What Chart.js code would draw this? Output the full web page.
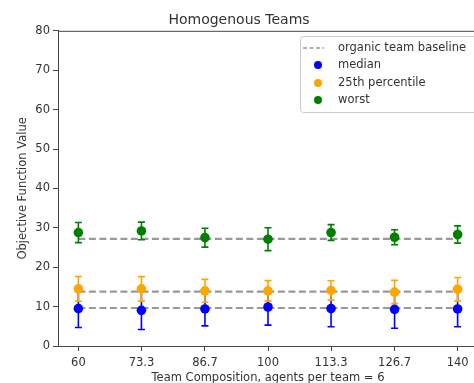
<!DOCTYPE html>
<html>
<head>
<meta charset="utf-8">
<script src="https://cdn.jsdelivr.net/npm/chart.js@4.4.1/dist/chart.umd.min.js"></script>
<style>
  html, body { margin: 0; padding: 0; background: #fff; }
  #wrap { width: 474px; height: 383px; overflow: hidden; position: relative; }
  #box { width: 500px; height: 383px; }
</style>
</head>
<body>
<div id="wrap"><div id="box"><canvas id="chart"></canvas></div></div>
<script>
// team compositions on the x axis
const compositions = [60, 73.3, 86.7, 100, 113.3, 126.7, 140];
const xTickLabels = ['60', '73.3', '86.7', '100', '113.3', '126.7', '140'];

// series (value, +/- error)
const medianVals = [9.5, 9.05, 9.4, 9.9, 9.5, 9.3, 9.4];
const medianErr = [4.8, 4.85, 4.3, 4.6, 4.6, 4.8, 4.5];
const p25Vals = [14.5, 14.5, 14.0, 14.0, 14.1, 13.7, 14.4];
const p25Err = [3.15, 3.1, 2.9, 2.6, 2.45, 2.95, 3.0];
const worstVals = [28.8, 29.2, 27.5, 27.1, 28.8, 27.6, 28.3];
const worstErr = [2.55, 2.25, 2.4, 2.9, 2.0, 1.9, 2.2];

// organic team baselines
const baselineVals = [9.65, 13.8, 27.2];

const blue = '#0000ff';
const orange = '#ffa500';
const green = '#008000';
const dashGray = '#999999';
const axisColor = '#444';
const textColor = '#333';
const fontFam = "'DejaVu Sans', sans-serif";

const toPoints = vals => vals.map((v, i) => ({ x: compositions[i], y: v }));
const baselineData = v => [{ x: compositions[0], y: v }, { x: compositions[compositions.length - 1], y: v }];

const datasets = [];
baselineVals.forEach(v => {
    datasets.push({
        type: 'line',
        data: baselineData(v),
        borderColor: dashGray,
        borderWidth: 2.2,
        borderDash: [7, 3.5],
        pointRadius: 0,
        order: 10
    });
});
[[medianVals, medianErr, blue, 3], [p25Vals, p25Err, orange, 2], [worstVals, worstErr, green, 1]].forEach(([vals, errs, col, ord]) => {
    datasets.push({
        type: 'scatter',
        data: toPoints(vals),
        errors: errs,
        backgroundColor: col,
        borderColor: col,
        pointRadius: 4.8,
        pointBorderWidth: 0,
        order: ord
    });
});

// error bars drawn just before each dataset's markers
const errorBars = {
    id: 'errorBars',
    beforeDatasetDraw(chart, args) {
        const ds = chart.data.datasets[args.index];
        if (!ds.errors) return;
        const xs = chart.scales.x, ys = chart.scales.y;
        const c = chart.ctx;
        c.save();
        c.strokeStyle = ds.borderColor;
        c.lineWidth = 1.6;
        ds.data.forEach((p, i) => {
            const px = xs.getPixelForValue(p.x);
            const top = ys.getPixelForValue(p.y + ds.errors[i]);
            const bot = ys.getPixelForValue(p.y - ds.errors[i]);
            c.beginPath();
            c.moveTo(px, top); c.lineTo(px, bot);
            c.moveTo(px - 3.5, top); c.lineTo(px + 3.5, top);
            c.moveTo(px - 3.5, bot); c.lineTo(px + 3.5, bot);
            c.stroke();
        });
        c.restore();
    }
};

// top/right spines and in-plot legend
const frameAndLegend = {
    id: 'frameAndLegend',
    afterDraw(chart) {
        const c = chart.ctx;
        const a = chart.chartArea;
        c.save();
        c.strokeStyle = axisColor;
        c.lineWidth = 1;
        c.beginPath();
        c.moveTo(a.left, a.top + 0.5); c.lineTo(a.right, a.top + 0.5);
        c.lineTo(a.right, a.bottom);
        c.stroke();

        const lx = 300, ly = 36, lw = 190, lh = 76;
        c.fillStyle = 'rgba(255,255,255,0.85)';
        c.strokeStyle = '#cccccc';
        c.beginPath();
        c.roundRect(lx + 0.5, ly + 0.5, lw, lh, 3);
        c.fill(); c.stroke();

        const entries = [
            { label: 'organic team baseline', kind: 'dash', color: dashGray },
            { label: 'median', kind: 'dot', color: blue },
            { label: '25th percentile', kind: 'dot', color: orange },
            { label: 'worst', kind: 'dot', color: green }
        ];
        const rowY = [48, 65, 83, 100];
        c.font = '11.5px ' + fontFam;
        c.textBaseline = 'middle';
        entries.forEach((e, i) => {
            const y = rowY[i];
            if (e.kind === 'dash') {
                c.strokeStyle = e.color;
                c.lineWidth = 1.5;
                c.setLineDash([4, 2.5]);
                c.beginPath(); c.moveTo(303, y); c.lineTo(324, y); c.stroke();
                c.setLineDash([]);
            } else {
                c.fillStyle = e.color;
                c.beginPath(); c.arc(318, y, 4, 0, Math.PI * 2); c.fill();
            }
            c.fillStyle = textColor;
            c.fillText(e.label, 338, y);
        });
        c.restore();
    }
};

new Chart(document.getElementById('chart'), {
    data: { datasets: datasets },
    plugins: [errorBars, frameAndLegend],
    options: {
        responsive: true,
        maintainAspectRatio: false,
        animation: false,
        layout: { padding: { left: 0, right: 22, top: 0, bottom: 0 } },
        plugins: {
            legend: { display: false },
            tooltip: { enabled: false },
            title: {
                display: true,
                text: 'Homogenous Teams',
                color: textColor,
                font: { family: fontFam, size: 14, weight: 'normal' },
                padding: { top: 12, bottom: 2 }
            }
        },
        scales: {
            x: {
                type: 'linear',
                min: 55.7,
                max: 144.3,
                afterBuildTicks: scale => {
                    scale.ticks = compositions.map(v => ({ value: v }));
                },
                afterFit: scale => { scale.height = 37; },
                grid: { display: true, drawOnChartArea: false, drawTicks: true, tickLength: 5, color: axisColor },
                border: { display: true, color: axisColor, width: 1 },
                ticks: {
                    color: textColor,
                    font: { family: fontFam, size: 11.5 },
                    padding: 5,
                    maxRotation: 0,
                    autoSkip: false,
                    callback: (v, i) => xTickLabels[i]
                },
                title: {
                    display: true,
                    text: 'Team Composition, agents per team = 6',
                    color: textColor,
                    font: { family: fontFam, size: 11.5 },
                    padding: { top: 0, bottom: -2 }
                }
            },
            y: {
                min: 0,
                max: 80,
                afterFit: scale => { scale.width = 58; },
                grid: { display: true, drawOnChartArea: false, drawTicks: true, tickLength: 5, color: axisColor },
                border: { display: true, color: axisColor, width: 1 },
                ticks: {
                    stepSize: 10,
                    color: textColor,
                    font: { family: fontFam, size: 11.5 },
                    padding: 3
                },
                title: {
                    display: true,
                    text: 'Objective Function Value',
                    color: textColor,
                    font: { family: fontFam, size: 11.5 },
                    padding: { top: 16, bottom: 0 }
                }
            }
        }
    }
});
</script>
</body>
</html>
